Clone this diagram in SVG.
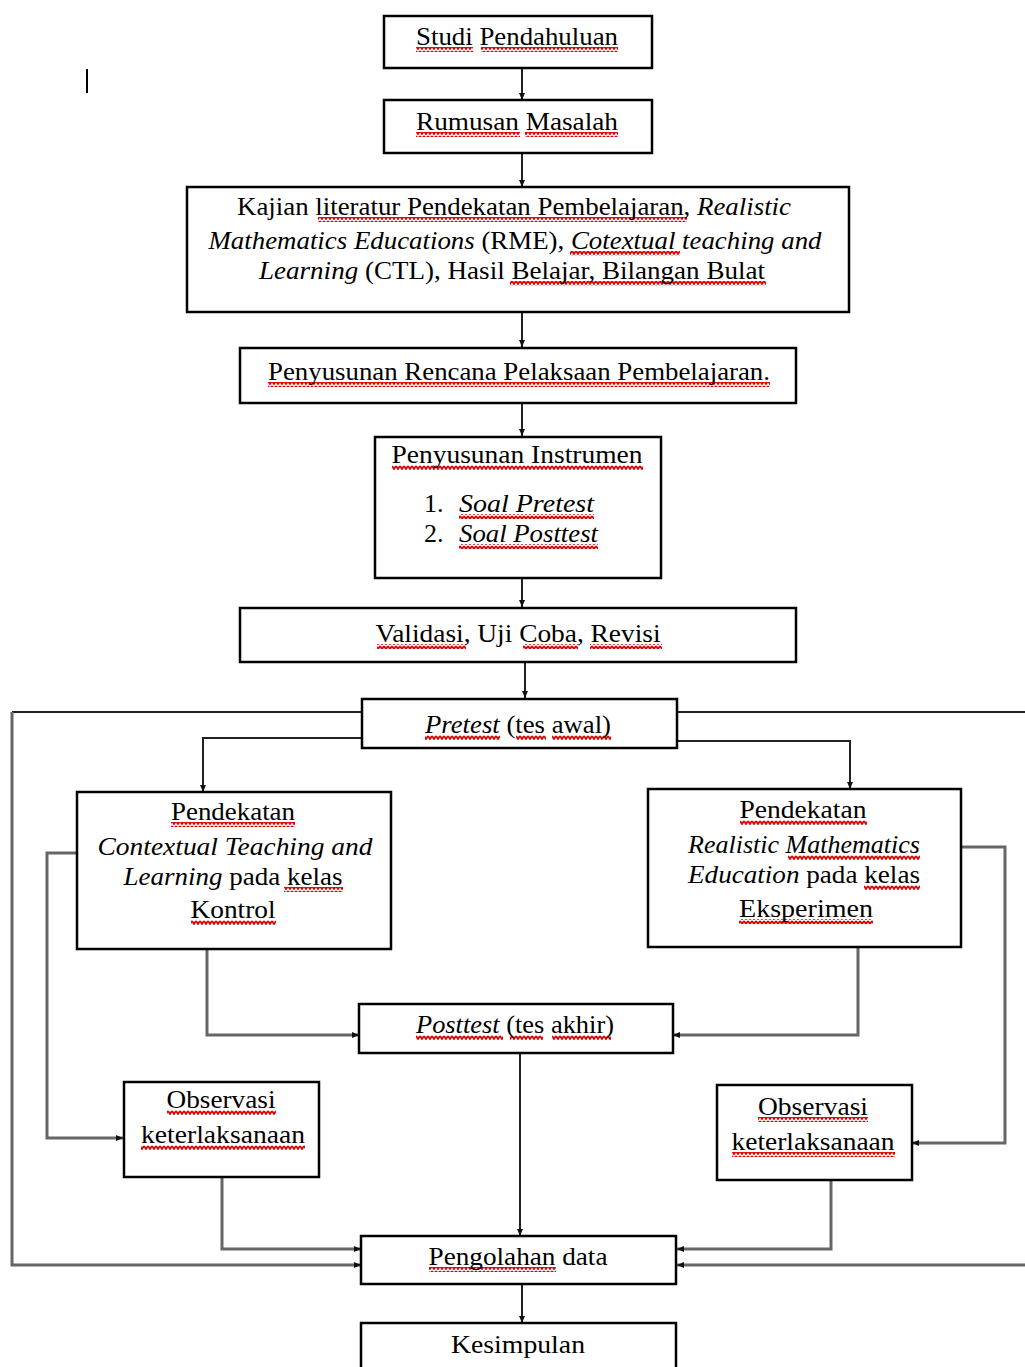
<svg xmlns="http://www.w3.org/2000/svg" width="1025" height="1367" viewBox="0 0 1025 1367">
<style>
.box{fill:#fff;stroke:#000;stroke-width:2.5}
.t{font-family:"Liberation Serif","Times New Roman",serif;font-size:26px;fill:#000}
.i{font-style:italic}
.c{fill:none;stroke:#222;stroke-width:2}
.g{fill:none;stroke:#666;stroke-width:3}
.sq{fill:url(#wave)}
</style>
<defs>
<marker id="ah" markerUnits="userSpaceOnUse" markerWidth="8" markerHeight="8" refX="7" refY="4" orient="auto">
<path d="M0,1 L7,4 L0,7 z" fill="#111"/>
</marker>
<pattern id="wave" patternUnits="userSpaceOnUse" width="4" height="5">
<path d="M0,1 L2,4 L4,1" fill="none" stroke="#e00000" stroke-width="1.8"/>
</pattern>
</defs>

<line x1="87" y1="69" x2="87" y2="93" stroke="#000" stroke-width="2"/>

<g id="connectors">
<line class="c" x1="522" y1="68" x2="522" y2="100" marker-end="url(#ah)"/>
<line class="c" x1="522" y1="153" x2="522" y2="187" marker-end="url(#ah)"/>
<line class="c" x1="522" y1="312" x2="522" y2="347" marker-end="url(#ah)"/>
<line class="c" x1="522" y1="403" x2="522" y2="436" marker-end="url(#ah)"/>
<line class="c" x1="522" y1="578" x2="522" y2="607" marker-end="url(#ah)"/>
<line class="c" x1="525" y1="662" x2="525" y2="698" marker-end="url(#ah)"/>
<polyline class="c" points="362,738 203,738 203,792" marker-end="url(#ah)"/>
<polyline class="c" points="677,741 850,741 850,789" marker-end="url(#ah)"/>
<polyline class="g" points="207,950 207,1035 359,1035" marker-end="url(#ah)"/>
<polyline class="g" points="858,947 858,1035 673,1035" marker-end="url(#ah)"/>
<polyline class="g" points="77,853 47,853 47,1138 123,1138" marker-end="url(#ah)"/>
<polyline class="g" points="961,847 1005,847 1005,1143 912,1143" marker-end="url(#ah)"/>
<line class="c" x1="520" y1="1053" x2="520" y2="1236" marker-end="url(#ah)"/>
<polyline class="g" points="222,1177 222,1249 361,1249" marker-end="url(#ah)"/>
<polyline class="g" points="831,1180 831,1249 677,1249" marker-end="url(#ah)"/>
<polyline class="c" points="362,712 12,712"/>
<polyline class="g" points="12,712 12,1265 361,1265" marker-end="url(#ah)"/>
<line class="c" x1="677" y1="712" x2="1025" y2="712"/>
<polyline class="g" points="1025,1265 677,1265" marker-end="url(#ah)"/>
<line class="c" x1="522" y1="1284" x2="522" y2="1323" marker-end="url(#ah)"/>
</g>

<g id="studi">
<rect class="box" x="384" y="16" width="268" height="52"/>
<rect class="sq" x="416" y="47" width="57" height="5"/><rect class="sq" x="481" y="47" width="137" height="5"/>
<text class="t" x="517" y="45" text-anchor="middle" textLength="202" lengthAdjust="spacingAndGlyphs">Studi Pendahuluan</text>
</g>

<g id="rumusan">
<rect class="box" x="384" y="100" width="268" height="53"/>
<rect class="sq" x="416" y="132" width="104" height="5"/><rect class="sq" x="525" y="132" width="93" height="5"/>
<text class="t" x="517" y="130" text-anchor="middle" textLength="202" lengthAdjust="spacingAndGlyphs">Rumusan Masalah</text>
</g>

<g id="kajian">
<rect class="box" x="187" y="187" width="662" height="125"/>
<rect class="sq" x="318" y="217" width="369" height="5"/>
<rect class="sq" x="570" y="251" width="110" height="5"/>
<rect class="sq" x="510" y="281" width="256" height="5"/>
<text class="t" x="514" y="215" text-anchor="middle" textLength="554" lengthAdjust="spacingAndGlyphs">Kajian literatur Pendekatan Pembelajaran, <tspan class="i">Realistic</tspan></text>
<text class="t" x="515" y="249" text-anchor="middle" textLength="613" lengthAdjust="spacingAndGlyphs"><tspan class="i">Mathematics Educations</tspan> (RME), <tspan class="i">Cotextual teaching and</tspan></text>
<text class="t" x="512" y="279" text-anchor="middle" textLength="506" lengthAdjust="spacingAndGlyphs"><tspan class="i">Learning</tspan> (CTL), Hasil Belajar, Bilangan Bulat</text>
</g>

<g id="rpp">
<rect class="box" x="240" y="348" width="556" height="55"/>
<rect class="sq" x="268" y="382" width="502" height="5"/>
<text class="t" x="519" y="380" text-anchor="middle" textLength="502" lengthAdjust="spacingAndGlyphs">Penyusunan Rencana Pelaksaan Pembelajaran.</text>
</g>

<g id="instrumen">
<rect class="box" x="375" y="437" width="286" height="141"/>
<rect class="sq" x="392" y="465" width="251" height="5"/>
<rect class="sq" x="459" y="514" width="135" height="5"/>
<rect class="sq" x="459" y="544" width="139" height="5"/>
<text class="t" x="517" y="463" text-anchor="middle" textLength="251" lengthAdjust="spacingAndGlyphs">Penyusunan Instrumen</text>
<text class="t" x="424" y="512">1.</text>
<text class="t i" x="459" y="512" textLength="135" lengthAdjust="spacingAndGlyphs">Soal Pretest</text>
<text class="t" x="424" y="542">2.</text>
<text class="t i" x="459" y="542" textLength="139" lengthAdjust="spacingAndGlyphs">Soal Posttest</text>
</g>

<g id="validasi">
<rect class="box" x="240" y="608" width="556" height="54"/>
<rect class="sq" x="377" y="644" width="89" height="5"/>
<rect class="sq" x="523" y="644" width="55" height="5"/>
<rect class="sq" x="590" y="644" width="72" height="5"/>
<text class="t" x="518" y="642" text-anchor="middle" textLength="285" lengthAdjust="spacingAndGlyphs">Validasi, Uji Coba, Revisi</text>
</g>

<g id="pretest">
<rect class="box" x="362" y="699" width="315" height="49"/>
<rect class="sq" x="425" y="735" width="75" height="5"/>
<rect class="sq" x="516" y="735" width="30" height="5"/>
<rect class="sq" x="552" y="735" width="59" height="5"/>
<text class="t" x="518" y="733" text-anchor="middle" textLength="186" lengthAdjust="spacingAndGlyphs"><tspan class="i">Pretest</tspan> (tes awal)</text>
</g>

<g id="ctl">
<rect class="box" x="77" y="792" width="314" height="157"/>
<rect class="sq" x="171" y="822" width="124" height="5"/>
<rect class="sq" x="284" y="887" width="59" height="5"/>
<rect class="sq" x="191" y="920" width="85" height="5"/>
<text class="t" x="233" y="820" text-anchor="middle" textLength="124" lengthAdjust="spacingAndGlyphs">Pendekatan</text>
<text class="t i" x="235" y="855" text-anchor="middle" textLength="275" lengthAdjust="spacingAndGlyphs">Contextual Teaching and</text>
<text class="t" x="233" y="885" text-anchor="middle" textLength="219" lengthAdjust="spacingAndGlyphs"><tspan class="i">Learning</tspan> pada kelas</text>
<text class="t" x="233" y="918" text-anchor="middle" textLength="85" lengthAdjust="spacingAndGlyphs">Kontrol</text>
</g>

<g id="rme">
<rect class="box" x="648" y="789" width="313" height="158"/>
<rect class="sq" x="740" y="820" width="127" height="5"/>
<rect class="sq" x="788" y="855" width="132" height="5"/>
<rect class="sq" x="864" y="885" width="56" height="5"/>
<rect class="sq" x="739" y="919" width="134" height="5"/>
<text class="t" x="803" y="818" text-anchor="middle" textLength="127" lengthAdjust="spacingAndGlyphs">Pendekatan</text>
<text class="t i" x="804" y="853" text-anchor="middle" textLength="232" lengthAdjust="spacingAndGlyphs">Realistic  Mathematics</text>
<text class="t" x="804" y="883" text-anchor="middle" textLength="232" lengthAdjust="spacingAndGlyphs"><tspan class="i">Education</tspan> pada kelas</text>
<text class="t" x="806" y="917" text-anchor="middle" textLength="134" lengthAdjust="spacingAndGlyphs">Eksperimen</text>
</g>

<g id="posttest">
<rect class="box" x="359" y="1004" width="314" height="49"/>
<rect class="sq" x="416" y="1035" width="87" height="5"/>
<rect class="sq" x="510" y="1035" width="33" height="5"/>
<rect class="sq" x="552" y="1035" width="59" height="5"/>
<text class="t" x="515" y="1033" text-anchor="middle" textLength="198" lengthAdjust="spacingAndGlyphs"><tspan class="i">Posttest</tspan> (tes akhir)</text>
</g>

<g id="obs-left">
<rect class="box" x="124" y="1082" width="195" height="95"/>
<rect class="sq" x="167" y="1110" width="109" height="5"/>
<rect class="sq" x="141" y="1145" width="164" height="5"/>
<text class="t" x="221" y="1108" text-anchor="middle" textLength="109" lengthAdjust="spacingAndGlyphs">Observasi</text>
<text class="t" x="223" y="1143" text-anchor="middle" textLength="164" lengthAdjust="spacingAndGlyphs">keterlaksanaan</text>
</g>

<g id="obs-right">
<rect class="box" x="717" y="1085" width="195" height="95"/>
<rect class="sq" x="758" y="1117" width="110" height="5"/>
<rect class="sq" x="732" y="1152" width="163" height="5"/>
<text class="t" x="813" y="1115" text-anchor="middle" textLength="110" lengthAdjust="spacingAndGlyphs">Observasi</text>
<text class="t" x="813" y="1150" text-anchor="middle" textLength="163" lengthAdjust="spacingAndGlyphs">keterlaksanaan</text>
</g>

<g id="pengolahan">
<rect class="box" x="361" y="1236" width="315" height="48"/>
<rect class="sq" x="429" y="1267" width="127" height="5"/>
<text class="t" x="518" y="1265" text-anchor="middle" textLength="179" lengthAdjust="spacingAndGlyphs">Pengolahan data</text>
</g>

<g id="kesimpulan">
<rect class="box" x="361" y="1323" width="315" height="60"/>
<text class="t" x="518" y="1353" text-anchor="middle" textLength="134" lengthAdjust="spacingAndGlyphs">Kesimpulan</text>
</g>
</svg>
